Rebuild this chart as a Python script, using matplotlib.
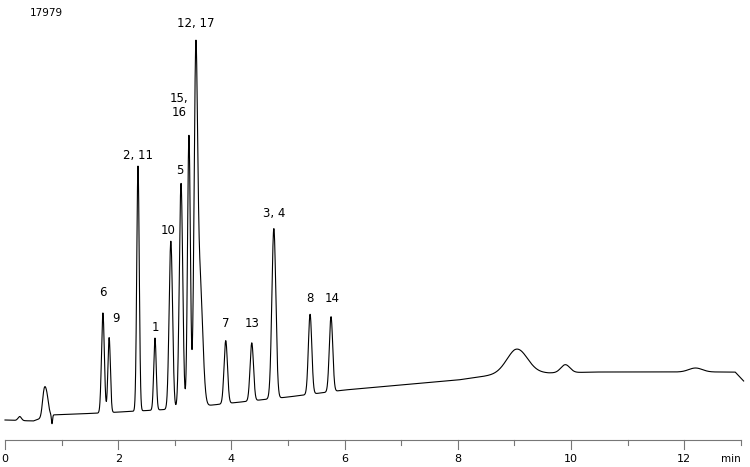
import numpy as np
import matplotlib.pyplot as plt

# peak table: retention time (min), height above baseline, width (sigma, min)
peak_t = [0.26, 0.69, 0.74, 0.83, 1.73, 1.84, 2.35, 2.65, 2.93, 3.11, 3.25, 3.37, 3.44,
          3.90, 4.36, 4.75, 5.39, 5.76, 9.05, 9.90, 12.2]
peak_h = [4, 24, 18, -9, 100, 75, 245, 72, 168, 225, 272, 315, 130,
          63, 58, 170, 80, 75, 23, 8, 4]
peak_w = [0.03, 0.03, 0.03, 0.01, 0.025, 0.022, 0.022, 0.022, 0.03, 0.03, 0.025, 0.03, 0.05,
          0.03, 0.03, 0.035, 0.03, 0.03, 0.18, 0.08, 0.12]

# baseline knots (min, value)
base_t = [0.0, 0.5, 0.8, 1.7, 3.0, 4.0, 5.0, 6.0, 7.0, 8.0, 9.0, 9.6, 10.5, 12.0, 12.9, 13.05]
base_v = [47, 46, 52, 54, 58, 64, 70, 77, 82, 87, 95, 94, 95, 95, 95, 86]

labels = ["6", "9", "2, 11", "1", "10", "5", "15,\n16", "12, 17", "7", "13", "3, 4", "8", "14"]
label_x = [1.73, 1.96, 2.35, 2.65, 2.88, 3.08, 3.07, 3.37, 3.90, 4.36, 4.75, 5.39, 5.78]
label_y = [168, 142, 305, 133, 230, 290, 348, 437, 137, 137, 247, 162, 162]

t = np.linspace(0, 13.05, 6000)
y = np.interp(t, base_t, base_v)
for c, h, w in zip(peak_t, peak_h, peak_w):
    y = y + h * np.exp(-0.5 * ((t - c) / w) ** 2)

ppm = 56.6
fig = plt.figure(figsize=(7.5, 4.67), dpi=100)
ax = fig.add_axes([0, 0, 1, 1])
ax.set_xlim(-5 / ppm, 745 / ppm)
ax.set_ylim(0, 467)
ax.axis('off')

ax.plot(t, y, color='black', lw=0.8)

# time axis
ax.plot([0, 13], [27, 27], color='#777777', lw=0.8)
for k in range(14):
    ln = 9 if k % 2 == 0 else 5
    ax.plot([k, k], [27, 27 - ln], color='#777777', lw=0.8)
    if k % 2 == 0:
        ax.text(k, 8, str(k), ha='center', va='center', fontsize=8)
ax.text(13, 8, "min", ha='right', va='center', fontsize=7.5)
ax.text(25 / ppm, 454, "17979", ha='left', va='center', fontsize=7.5)

for s, x0, y0 in zip(labels, label_x, label_y):
    ax.text(x0, y0, s, ha='center', va='bottom', fontsize=8.5, linespacing=1.1)

fig.savefig("out.png", dpi=100)
